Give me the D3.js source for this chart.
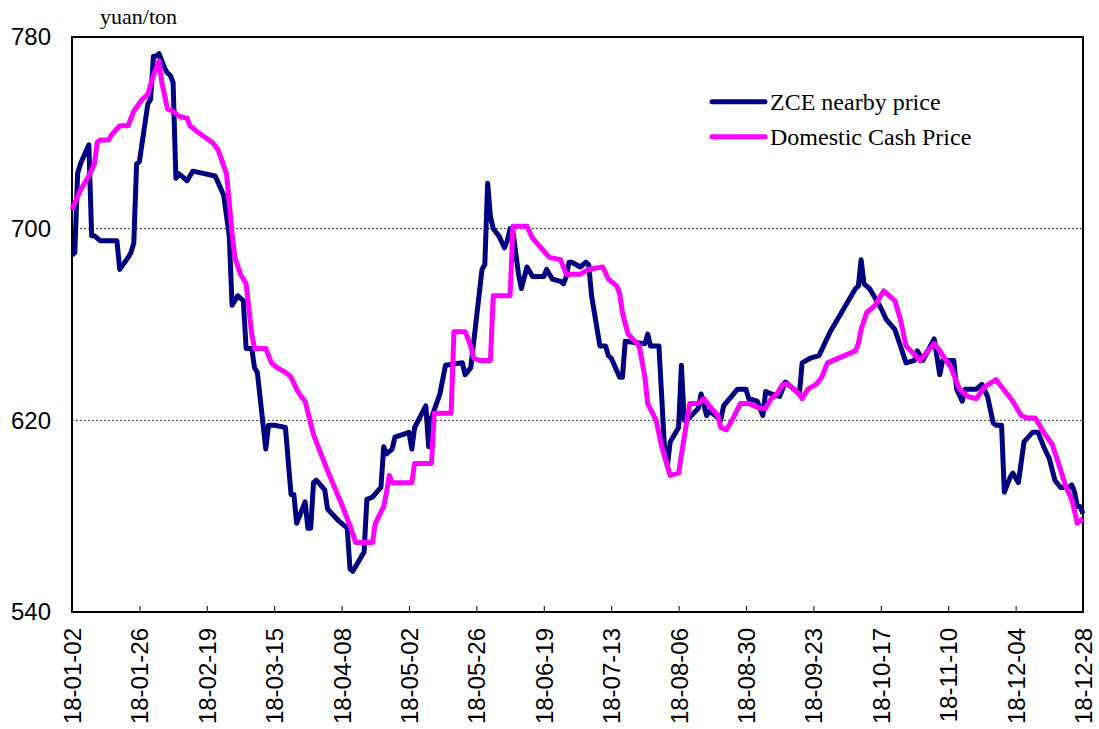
<!DOCTYPE html>
<html>
<head>
<meta charset="utf-8">
<script src="https://cdn.jsdelivr.net/npm/d3@7"></script>
<style>
  body { margin: 0; background: #fff; }
</style>
</head>
<body>
<div id="chart"></div>
<script>
// ZCE nearby price vs domestic cash price, 2018

var tickLabels = ["18-01-02", "18-01-26", "18-02-19", "18-03-15", "18-04-08", "18-05-02", "18-05-26", "18-06-19",
    "18-07-13", "18-08-06", "18-08-30", "18-09-23", "18-10-17", "18-11-10", "18-12-04", "18-12-28"];
var yTicks = [540, 620, 700, 780];
var seriesNames = ["ZCE nearby price", "Domestic Cash Price"];

var zceDates = ["01-02","01-03","01-04","01-05","01-08","01-09","01-10","01-12","01-18","01-19","01-22","01-23","01-24","01-25","01-26","01-29","01-30","01-31",
    "02-01","02-02","02-04","02-05","02-06","02-07","02-08","02-09","02-12","02-14","02-22","02-25","02-27","02-28",
    "03-02","03-04","03-05","03-07","03-08","03-09","03-12","03-13","03-15","03-19","03-21","03-22","03-23","03-26","03-27","03-28","03-29","03-30",
    "04-02","04-03","04-07","04-10","04-11","04-12","04-16","04-17","04-19","04-22","04-23","04-24","04-26","04-27",
    "05-02","05-03","05-04","05-08","05-09","05-10","05-13","05-15","05-21","05-22","05-24","05-28","05-29","05-30","05-31",
    "06-01","06-03","06-05","06-06","06-07","06-08","06-10","06-11","06-13","06-15","06-19","06-20","06-22","06-25","06-26","06-27","06-28","06-29",
    "07-02","07-04","07-05","07-06","07-09","07-11","07-12","07-13","07-16","07-17","07-18","07-25","07-26","07-27","07-30",
    "08-01","08-02","08-03","08-06","08-07","08-08","08-09","08-13","08-14","08-16","08-17","08-21","08-22","08-27","08-30","08-31",
    "09-03","09-05","09-06","09-08","09-11","09-13","09-16","09-18","09-19","09-22","09-25","09-27","09-29",
    "10-08","10-09","10-10","10-11","10-13","10-17","10-19","10-22","10-26","10-29","10-30",
    "11-01","11-05","11-07","11-08","11-12","11-13","11-15","11-16","11-20","11-22","11-24","11-26","11-27","11-29","11-30",
    "12-02","12-03","12-05","12-07","12-10","12-12","12-14","12-16","12-18","12-20","12-23","12-24","12-25","12-26","12-27","12-28"];
var zcePrices = [689,690,723,727,735,697,697,695,695,683,688,690,694,727,728,752,754,772,
    772,773,767,765,764,761,721,723,720,724,722,714,697,668,
    672,670,650,650,642,640,608,618,618,617,589,589,577,586,575,575,594,595,
    591,583,578,575,558,557,565,587,588,592,609,606,608,613,
    615,608,617,626,609,621,631,643,644,639,642,683,685,719,705,
    700,697,692,695,700,699,681,675,684,680,680,683,679,678,677,680,686,686,
    684,686,685,672,651,651,647,646,638,638,653,652,656,651,651,
    608,601,611,617,643,620,620,625,631,622,624,620,626,633,633,629,
    628,622,632,631,630,636,633,631,644,646,647,652,657,
    675,676,687,677,675,667,662,658,644,645,649,
    645,654,639,645,645,633,628,633,633,635,630,619,618,618,590,
    596,598,594,611,615,615,609,604,595,592,592,593,590,584,584,581];

var cashDates = ["01-02","01-05","01-08","01-10","01-11","01-12","01-15","01-16","01-19","01-22","01-24","01-27","01-29","01-31",
    "02-02","02-03","02-05","02-07","02-09","02-12","02-13","02-15","02-21","02-23","02-26","02-27","02-28",
    "03-01","03-03","03-05","03-07","03-08","03-12","03-14","03-16","03-19","03-21","03-23","03-24","03-26","03-29","03-30",
    "04-03","04-08","04-11","04-13","04-19","04-20","04-23","04-24","04-25","04-26",
    "05-03","05-04","05-10","05-11","05-17","05-18","05-22","05-24","05-25","05-27","05-31",
    "06-01","06-07","06-08","06-13","06-15","06-18","06-21","06-25","06-27","06-29",
    "07-02","07-05","07-10","07-12","07-15","07-16","07-17","07-19","07-23","07-25","07-26","07-29","07-31",
    "08-03","08-06","08-08","08-10","08-13","08-15","08-17","08-20","08-21","08-23","08-25","08-28","08-31",
    "09-04","09-06","09-08","09-10","09-12","09-14","09-16","09-18","09-19","09-21","09-24","09-26","09-28",
    "10-08","10-09","10-10","10-12","10-15","10-18","10-22","10-24","10-26","10-31",
    "11-05","11-07","11-11","11-14","11-17","11-20","11-23","11-27","11-29",
    "12-01","12-03","12-06","12-08","12-11","12-14","12-17","12-19","12-22","12-24","12-26","12-28"];
var cashPrices = [708,716,722,727,736,737,737,739,743,743,749,754,756,764,
    770,761,750,749,747,746,743,741,736,733,723,711,698,
    688,681,677,656,650,650,644,642,640,638,633,631,628,614,611,
    599,585,576,569,569,577,584,590,597,594,
    594,602,602,623,623,657,657,651,646,645,645,
    672,672,701,701,696,692,688,687,681,681,
    681,683,684,679,676,673,665,656,651,638,627,620,609,
    597,598,613,627,627,629,626,622,617,616,620,627,627,
    625,625,629,631,635,635,633,631,629,633,635,638,644,
    649,652,658,665,668,674,670,662,651,645,
    652,649,642,633,630,629,634,637,634,
    631,628,622,621,621,615,610,603,592,587,577,579];

function priceChart() {
    var W = 1099, H = 729;
    var margin = { top: 37, right: 16, bottom: 117, left: 72 },
        width = W - margin.left - margin.right,
        height = H - margin.top - margin.bottom;

    var parseDay = d3.utcParse("%Y-%m-%d");
    var parseTick = d3.utcParse("%y-%m-%d");

    var zce = zceDates.map((d, i) => ({ date: parseDay("2018-" + d), value: zcePrices[i] }));
    var cash = cashDates.map((d, i) => ({ date: parseDay("2018-" + d), value: cashPrices[i] }));
    var tickDates = tickLabels.map(t => parseTick(t));

    var svg = d3.select("#chart").append("svg")
        .attr("width", W)
        .attr("height", H)
        .append("g")
        .attr("transform", "translate(" + margin.left + "," + margin.top + ")");

    var x = d3.scaleUtc()
        .domain([tickDates[0], tickDates[tickDates.length - 1]])
        .range([0, width]);
    var y = d3.scaleLinear().domain([540, 780]).range([height, 0]);

    // dotted grid
    svg.append("g")
        .selectAll("line")
        .data([620, 700])
        .join("line")
        .attr("x1", 0).attr("x2", width)
        .attr("y1", d => y(d)).attr("y2", d => y(d))
        .attr("stroke", "#333")
        .attr("stroke-width", 1)
        .attr("stroke-dasharray", "2,2");

    var xAxis = d3.axisBottom(x)
        .tickValues(tickDates)
        .tickFormat(d3.utcFormat("%y-%m-%d"))
        .tickSize(-6)
        .tickSizeOuter(0);

    var gx = svg.append("g")
        .attr("transform", "translate(0," + height + ")")
        .call(xAxis);
    gx.select(".domain").remove();
    gx.selectAll(".tick line").attr("stroke", "#000").attr("stroke-width", 1);
    gx.selectAll(".tick text")
        .style("font", "24px 'Liberation Sans', Arial, sans-serif")
        .attr("fill", "#000")
        .attr("transform", "rotate(-90)")
        .attr("text-anchor", "end")
        .attr("x", -16)
        .attr("y", 0)
        .attr("dy", "0.35em");

    var yAxis = d3.axisLeft(y).tickValues(yTicks).tickSize(0).tickPadding(21);
    var gy = svg.append("g").call(yAxis);
    gy.select(".domain").remove();
    gy.selectAll(".tick text")
        .style("font", "24px 'Liberation Sans', Arial, sans-serif")
        .attr("fill", "#000");

    // frame
    svg.append("rect")
        .attr("x", 0).attr("y", 0)
        .attr("width", width).attr("height", height)
        .attr("fill", "none")
        .attr("stroke", "#000")
        .attr("stroke-width", 2);

    var line = d3.line()
        .x(d => x(d.date))
        .y(d => y(d.value));

    var colors = ["#000080", "#ff00ff"];

    svg.append("path")
        .datum(zce)
        .attr("d", line)
        .attr("fill", "none")
        .attr("stroke", colors[0])
        .attr("stroke-width", 5)
        .attr("stroke-linejoin", "round");

    svg.append("path")
        .datum(cash)
        .attr("d", line)
        .attr("fill", "none")
        .attr("stroke", colors[1])
        .attr("stroke-width", 5)
        .attr("stroke-linejoin", "round");

    // unit label
    svg.append("text")
        .attr("x", 100 - margin.left)
        .attr("y", 24 - margin.top)
        .style("font", "22px 'Liberation Serif', 'Times New Roman', serif")
        .text("yuan/ton");

    // legend
    var legend = svg.append("g")
        .attr("transform", "translate(" + (712 - margin.left) + "," + (101.7 - margin.top) + ")");
    seriesNames.forEach(function(name, i) {
        legend.append("line")
            .attr("x1", 0).attr("x2", 53)
            .attr("y1", i * 35).attr("y2", i * 35)
            .attr("stroke", colors[i])
            .attr("stroke-width", 5)
            .attr("stroke-linecap", "round");
        legend.append("text")
            .attr("x", 58)
            .attr("y", i * 35)
            .attr("dy", "0.33em")
            .style("font", "24px 'Liberation Serif', 'Times New Roman', serif")
            .text(name);
    });
}
priceChart();
</script>
</body>
</html>
